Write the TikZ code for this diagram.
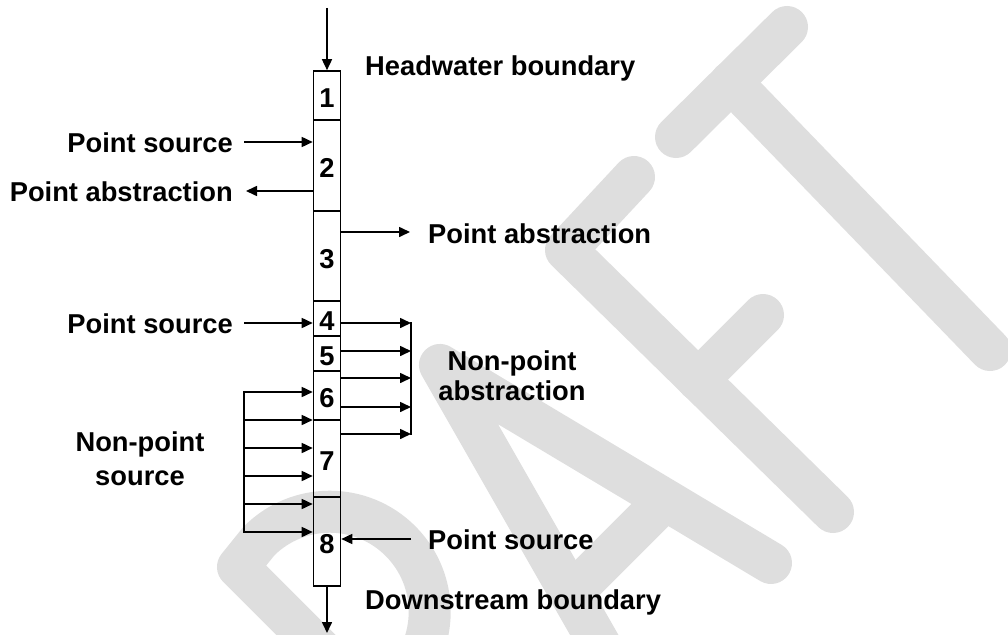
\documentclass[tikz,border=0pt]{standalone}
\usepackage{fontspec}
\setmainfont{Liberation Sans}
\usetikzlibrary{arrows.meta}
\definecolor{wm}{RGB}{222,222,222}
\begin{document}
\begin{tikzpicture}[x=1pt,y=-1pt,
  lbl/.style={inner sep=0pt, font=\fontsize{27.3}{33}\selectfont\bfseries},
  seg/.style={draw, line width=1.6pt, rectangle, minimum width=27pt, inner sep=0pt,
              text height=24.5pt, text depth=0pt, font=\fontsize{27.3}{33}\selectfont\bfseries},
  arr/.style={line width=1.6pt, -{Triangle[length=11pt,width=10pt]}},
  ln/.style={line width=1.6pt, line cap=rect},
  wmk/.style={draw=wm, line width=42pt, line cap=round, line join=round}]
\useasboundingbox (0,0) rectangle (1008,634);
% DRAFT watermark
\draw[wmk] (676,137) -- (787,27);
\draw[wmk] (731,82) -- (990,350);
\draw[wmk] (634,177) -- (566,250) -- (833,512);
\draw[wmk] (698,380) -- (763,315);
\draw[wmk] (620,680) -- (440,365) -- (771,563);
\draw[wmk] (665,500) -- (572,593);
\draw[wmk] (340,669) -- (238,567) -- (259,541) arc[start angle=225,end angle=405,radius=100];
% segments
\node[seg, minimum height=49pt] (b1) at (327,95.5) {1};
\node[seg, minimum height=91pt] (b2) at (327,165.5) {2};
\node[seg, minimum height=90pt] (b3) at (327,256) {3};
\node[seg, minimum height=35pt] (b4) at (327,318.5) {4};
\node[seg, minimum height=35pt] (b5) at (327,353.5) {5};
\node[seg, minimum height=49pt] (b6) at (327,395.5) {6};
\node[seg, minimum height=77pt] (b7) at (327,458.5) {7};
\node[seg, minimum height=89pt] (b8) at (327,541.5) {8};
% labels
\node[lbl, anchor=base west] (hw) at (365,75) {Headwater boundary};
\node[lbl, anchor=base east] (ps2) at (233,152) {Point source};
\node[lbl, anchor=base east] (pa2) at (233,201) {Point abstraction};
\node[lbl, anchor=base west] (pa3) at (428,243) {Point abstraction};
\node[lbl, anchor=base east] (ps4) at (233,333) {Point source};
\node[lbl, anchor=base] (npa1) at (512,370) {Non-point};
\node[lbl, anchor=base] (npa2) at (512,400) {abstraction};
\node[lbl, anchor=base] (nps1) at (140,451) {Non-point};
\node[lbl, anchor=base] (nps2) at (140,485) {source};
\node[lbl, anchor=base west] (ps8) at (428,549) {Point source};
\node[lbl, anchor=base west] (ds) at (365,609) {Downstream boundary};
% boundary arrows
\coordinate (top) at (327,8);
\coordinate (bot) at (327,633);
\draw[arr] (top) -- (b1.north);
\draw[arr] (b8.south) -- (bot);
% point sources / abstractions
\coordinate (ps2a) at (244,142);
\draw[arr] (ps2a) -- (ps2a -| b2.west);
\coordinate (pa2a) at (246,191);
\draw[arr] (pa2a -| b2.west) -- (pa2a);
\coordinate (pa3a) at (410,232);
\draw[arr] (pa3a -| b3.east) -- (pa3a);
\coordinate (ps4a) at (244,323);
\draw[arr] (ps4a) -- (ps4a -| b4.west);
\coordinate (ps8a) at (411,539);
\draw[arr] (ps8a) -- (ps8a -| b8.east);
% non-point abstraction
\coordinate (npaT) at (411,323);
\coordinate (npaB) at (411,434);
\draw[ln] (npaT) -- (npaB);
\foreach \y in {323,351,378,407,434}
  \draw[arr] (b4.east |- 0,\y) -- (npaT |- 0,\y);
% non-point source
\coordinate (npsT) at (244,392);
\coordinate (npsB) at (244,532);
\draw[ln] (npsT) -- (npsB);
\foreach \y in {392,420,448,476,504,532}
  \draw[arr] (npsT |- 0,\y) -- (b6.west |- 0,\y);
\end{tikzpicture}
\end{document}
